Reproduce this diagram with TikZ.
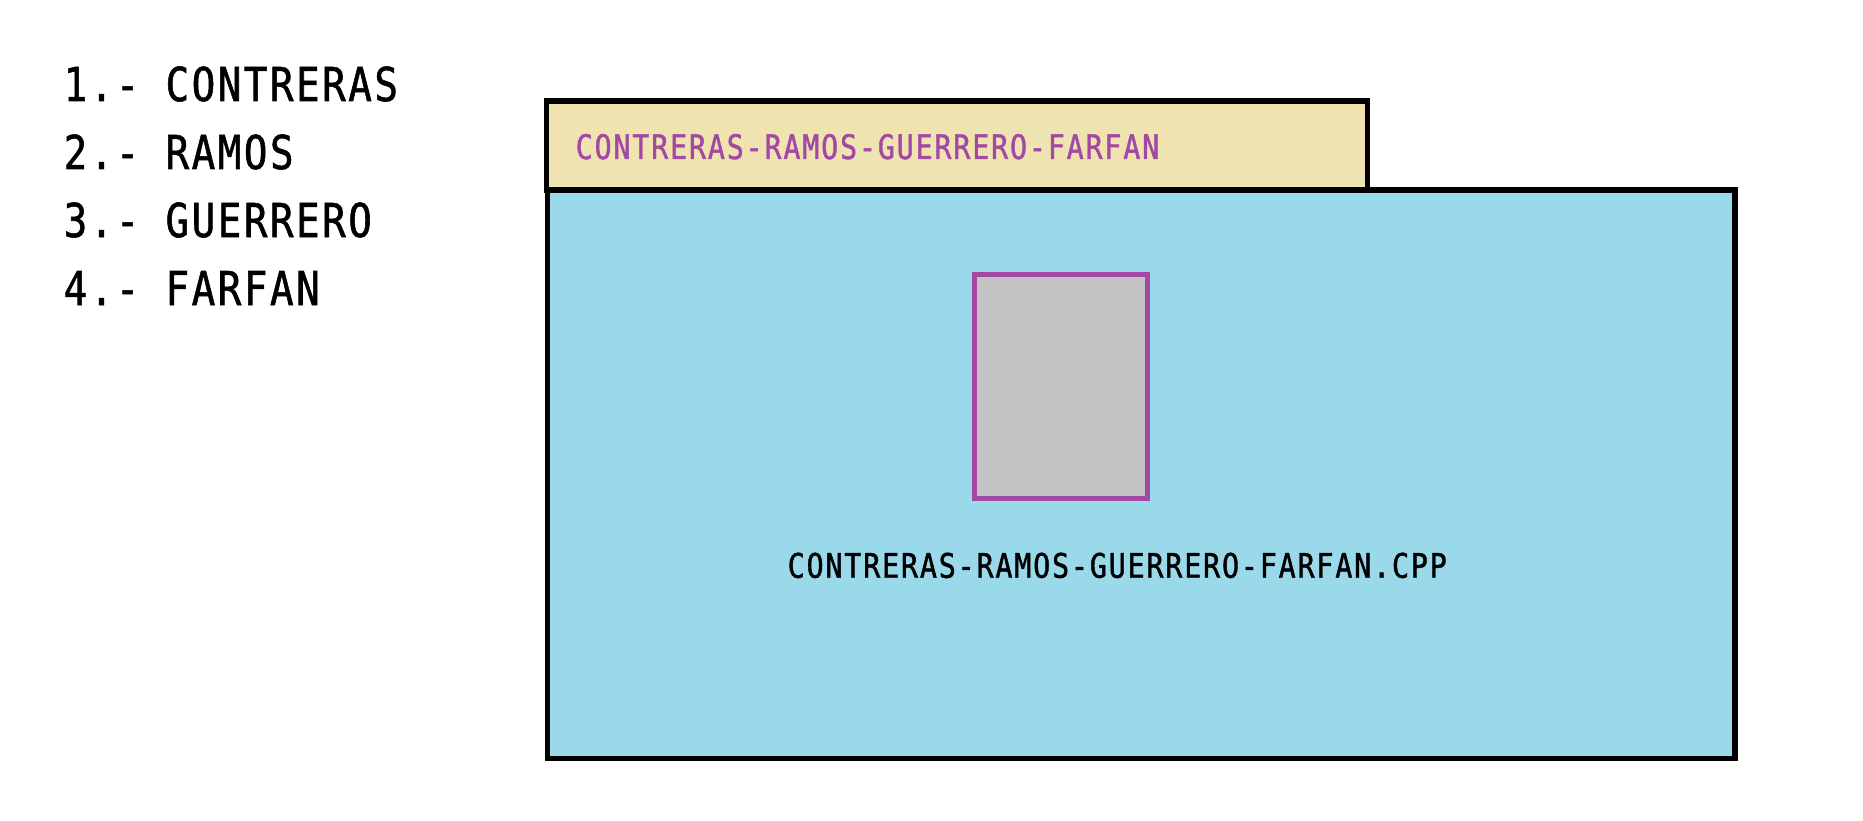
\documentclass[tikz,border=0pt]{standalone}
\usepackage{fontspec}
\newfontfamily\namefont[FakeStretch=0.84, LetterSpace=5.4, FakeBold=1.2]{DejaVu Sans Mono}
\usetikzlibrary{positioning}
\definecolor{tabyellow}{RGB}{239,228,176}
\definecolor{foldercyan}{RGB}{153,217,234}
\definecolor{filegray}{RGB}{195,195,195}
\definecolor{namepurple}{RGB}{163,73,164}
\tikzset{
  listname/.style={anchor=base west, inner sep=0pt, font=\namefont\fontsize{13.27}{16}\selectfont},
  tagname/.style={anchor=base west, inner sep=0pt, font=\namefont\fontsize{9.6}{12}\selectfont},
  outline/.style={draw=black, line width=1.5pt},
}

\begin{document}
\begin{tikzpicture}
    \useasboundingbox (0,0) rectangle (18.63,-8.20);
    \coordinate (tabNW) at (5.465,-1.01);
    \coordinate (tabSE) at (13.675,-1.90);
    \coordinate (bodyNW) at (5.475,-1.90);
    \coordinate (bodySE) at (17.35,-7.585);
    \coordinate (fileNW) at (9.745,-2.745);
    \coordinate (fileSE) at (11.475,-4.983);

    \filldraw[outline, fill=tabyellow] (tabNW) rectangle (tabSE);
    \filldraw[outline, fill=foldercyan] (bodyNW) rectangle (bodySE);
    \filldraw[draw=namepurple, fill=filegray, line width=1.5pt] (fileNW) rectangle (fileSE);

    \node[listname] (name1) at (0.63,-1.01) {1.- CONTRERAS};
    \node[listname] (name2) at (0.63,-1.69) {2.- RAMOS};
    \node[listname] (name3) at (0.63,-2.37) {3.- GUERRERO};
    \node[listname] (name4) at (0.63,-3.05) {4.- FARFAN};

    \node[tagname, text=namepurple] (tabname) at (5.75,-1.59) {CONTRERAS-RAMOS-GUERRERO-FARFAN};
    \node[tagname] (filename) at (7.87,-5.777) {CONTRERAS-RAMOS-GUERRERO-FARFAN.CPP};
\end{tikzpicture}
\end{document}
